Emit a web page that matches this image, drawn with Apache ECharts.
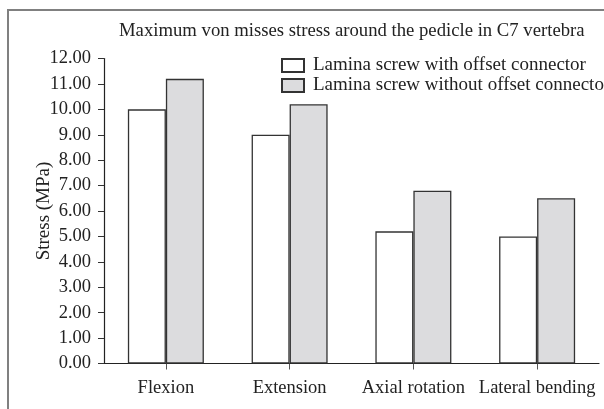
<!DOCTYPE html>
<html>
<head>
<meta charset="utf-8">
<script src="https://cdn.jsdelivr.net/npm/echarts@6/dist/echarts.min.js"></script>
<style>
  html, body { margin: 0; padding: 0; background: #fff; }
  #chart { width: 604px; height: 409px; }
</style>
</head>
<body>
<div id="chart"></div>
<script>
// data
var categories = ['Flexion', 'Extension', 'Axial rotation', 'Lateral bending']
var withOffset = [10.0, 9.0, 5.2, 5.0]
var withoutOffset = [11.2, 10.2, 6.8, 6.5]
var seriesNames = ['Lamina screw with offset connector', 'Lamina screw without offset connector']

var serif = '"Liberation Serif", "DejaVu Serif", serif'
var chart = echarts.init(document.getElementById('chart'))

chart.setOption({
  animation: false,
  backgroundColor: '#fff',
  title: {
    text: 'Maximum von misses stress around the pedicle in C7 vertebra',
    left: 114,
    top: 17,
    textStyle: { fontFamily: serif, fontSize: 18.7, fontWeight: 'normal', color: '#222' }
  },
  // the grey frame around the figure (cut off on the right and bottom)
  graphic: [{
    type: 'rect',
    shape: { x: 8, y: 10, width: 700, height: 500 },
    style: { fill: 'none', stroke: '#808080', lineWidth: 2 },
    silent: true
  }],
  legend: {
    orient: 'vertical',
    left: 276,
    top: 51,
    itemWidth: 22,
    itemHeight: 13,
    itemGap: 1,
    icon: 'rect',
    data: seriesNames,
    textStyle: { fontFamily: serif, fontSize: 19, color: '#222', padding: [0, 0, 0, 4] }
  },
  grid: { left: 104, right: 5, top: 58.5, bottom: 45.5 },
  xAxis: {
    type: 'category',
    data: categories,
    axisLine: { lineStyle: { color: '#222', width: 1.2 } },
    axisTick: { show: true, alignWithLabel: true, length: 6, lineStyle: { color: '#555' } },
    axisLabel: { fontFamily: serif, fontSize: 18.5, color: '#222', margin: 15, interval: 0 }
  },
  yAxis: {
    type: 'value',
    min: 0,
    max: 12,
    interval: 1,
    name: 'Stress (MPa)',
    nameLocation: 'middle',
    nameGap: 50,
    nameMoveOverlap: false,
    nameTextStyle: { fontFamily: serif, fontSize: 19, color: '#222' },
    axisLine: { show: true, lineStyle: { color: '#222', width: 1.2 } },
    axisTick: { show: true, length: 6, lineStyle: { color: '#333' } },
    axisLabel: {
      fontFamily: serif, fontSize: 18.5, color: '#222', margin: 13,
      formatter: function (v) { return v.toFixed(2) }
    },
    splitLine: { show: false }
  },
  series: [
    {
      name: seriesNames[0],
      type: 'bar',
      data: withOffset,
      barWidth: 38,
      barGap: '0%',
      itemStyle: { color: '#ffffff', borderColor: '#333', borderWidth: 1.3 }
    },
    {
      name: seriesNames[1],
      type: 'bar',
      data: withoutOffset,
      barWidth: 38,
      barGap: '0%',
      itemStyle: { color: '#dcdcde', borderColor: '#333', borderWidth: 1.3 }
    }
  ]
})
</script>
</body>
</html>
